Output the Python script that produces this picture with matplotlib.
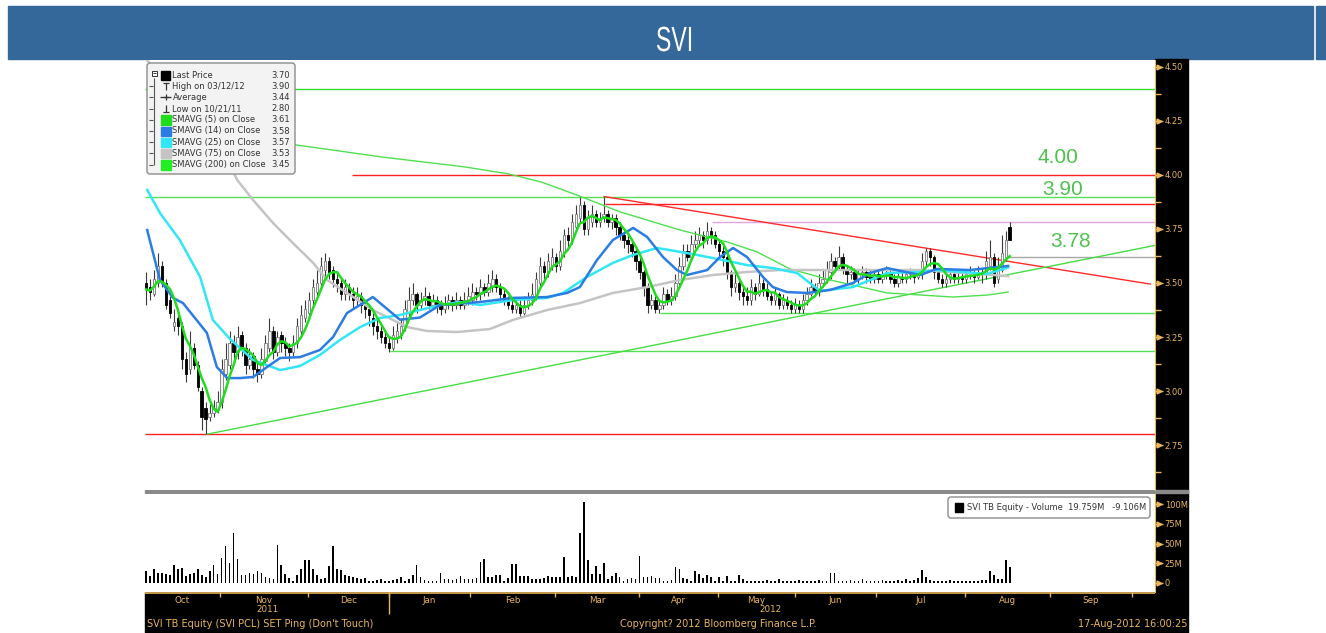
import numpy as np
import pandas as pd
import matplotlib
matplotlib.use("Agg")
import matplotlib.pyplot as plt
from matplotlib.patches import Rectangle, FancyBboxPatch, PathPatch
from matplotlib.ticker import FormatStrFormatter, FixedLocator
from matplotlib.transforms import blended_transform_factory, Affine2D
from matplotlib.textpath import TextPath
from matplotlib.font_manager import FontProperties

# ---- daily bars (index = trading day, starting early Oct 2011) ----
opens = [
    3.50, 3.48, 3.45, 3.50, 3.58, 3.50, 3.42, 3.30, 3.34, 3.30,
    3.15, 3.10, 3.20, 3.12, 3.00, 2.92, 2.88, 2.90, 2.91, 2.95,
    3.08, 3.12, 3.22, 3.18, 3.26, 3.20, 3.12, 3.16, 3.10, 3.08,
    3.14, 3.20, 3.28, 3.18, 3.26, 3.22, 3.20, 3.18, 3.22, 3.28,
    3.34, 3.36, 3.42, 3.46, 3.50, 3.56, 3.60, 3.56, 3.52, 3.50,
    3.45, 3.48, 3.45, 3.42, 3.44, 3.40, 3.38, 3.34, 3.30, 3.28,
    3.25, 3.22, 3.20, 3.25, 3.26, 3.30, 3.36, 3.42, 3.45, 3.40,
    3.42, 3.44, 3.40, 3.42, 3.40, 3.38, 3.40, 3.42, 3.40, 3.42,
    3.40, 3.42, 3.42, 3.46, 3.45, 3.48, 3.46, 3.48, 3.52, 3.48,
    3.45, 3.42, 3.40, 3.38, 3.40, 3.36, 3.40, 3.42, 3.44, 3.50,
    3.58, 3.55, 3.58, 3.62, 3.58, 3.64, 3.72, 3.70, 3.76, 3.80,
    3.86, 3.75, 3.78, 3.82, 3.78, 3.80, 3.82, 3.78, 3.80, 3.76,
    3.72, 3.70, 3.68, 3.65, 3.60, 3.55, 3.48, 3.40, 3.42, 3.38,
    3.40, 3.45, 3.42, 3.44, 3.50, 3.58, 3.65, 3.62, 3.68, 3.70,
    3.72, 3.70, 3.74, 3.72, 3.68, 3.65, 3.62, 3.55, 3.48, 3.50,
    3.46, 3.44, 3.42, 3.48, 3.45, 3.50, 3.47, 3.44, 3.42, 3.45,
    3.40, 3.42, 3.40, 3.38, 3.40, 3.38, 3.42, 3.45, 3.48, 3.46,
    3.50, 3.52, 3.55, 3.60, 3.58, 3.62, 3.56, 3.54, 3.55, 3.52,
    3.54, 3.55, 3.53, 3.52, 3.54, 3.52, 3.54, 3.55, 3.52, 3.50,
    3.53, 3.52, 3.54, 3.55, 3.53, 3.54, 3.60, 3.65, 3.62, 3.55,
    3.52, 3.50, 3.52, 3.54, 3.52, 3.53, 3.52, 3.54, 3.55, 3.53,
    3.55, 3.54, 3.58, 3.62, 3.52, 3.56, 3.62, 3.76,
]
highs = [
    3.55, 3.52, 3.56, 3.64, 3.60, 3.52, 3.44, 3.38, 3.36, 3.32,
    3.18, 3.28, 3.22, 3.14, 3.02, 2.95, 2.94, 2.96, 3.00, 3.15,
    3.22, 3.28, 3.26, 3.30, 3.28, 3.22, 3.20, 3.18, 3.14, 3.20,
    3.26, 3.34, 3.30, 3.28, 3.28, 3.25, 3.22, 3.26, 3.34, 3.40,
    3.42, 3.46, 3.52, 3.56, 3.62, 3.64, 3.62, 3.58, 3.55, 3.52,
    3.52, 3.50, 3.48, 3.48, 3.46, 3.42, 3.40, 3.36, 3.34, 3.30,
    3.28, 3.25, 3.30, 3.32, 3.34, 3.42, 3.48, 3.50, 3.46, 3.46,
    3.48, 3.46, 3.45, 3.44, 3.42, 3.44, 3.45, 3.44, 3.46, 3.44,
    3.46, 3.48, 3.50, 3.48, 3.52, 3.50, 3.54, 3.56, 3.54, 3.50,
    3.47, 3.44, 3.42, 3.42, 3.42, 3.44, 3.46, 3.50, 3.55, 3.62,
    3.60, 3.64, 3.66, 3.64, 3.70, 3.75, 3.76, 3.82, 3.86, 3.90,
    3.88, 3.84, 3.86, 3.84, 3.83, 3.90, 3.84, 3.82, 3.82, 3.78,
    3.74, 3.72, 3.70, 3.66, 3.62, 3.56, 3.50, 3.45, 3.44, 3.42,
    3.48, 3.47, 3.48, 3.54, 3.62, 3.68, 3.68, 3.72, 3.74, 3.76,
    3.74, 3.78, 3.76, 3.74, 3.70, 3.67, 3.64, 3.56, 3.54, 3.52,
    3.48, 3.48, 3.52, 3.50, 3.54, 3.52, 3.50, 3.46, 3.48, 3.46,
    3.45, 3.44, 3.42, 3.43, 3.42, 3.45, 3.48, 3.52, 3.50, 3.54,
    3.56, 3.60, 3.64, 3.62, 3.67, 3.64, 3.58, 3.58, 3.57, 3.56,
    3.58, 3.57, 3.56, 3.56, 3.56, 3.56, 3.58, 3.56, 3.54, 3.56,
    3.55, 3.56, 3.57, 3.56, 3.56, 3.64, 3.66, 3.66, 3.63, 3.57,
    3.54, 3.55, 3.56, 3.56, 3.55, 3.56, 3.56, 3.58, 3.56, 3.58,
    3.57, 3.65, 3.70, 3.64, 3.62, 3.72, 3.74, 3.78,
]
lows = [
    3.40, 3.42, 3.44, 3.48, 3.48, 3.38, 3.34, 3.28, 3.26, 3.10,
    3.04, 3.08, 3.10, 3.00, 2.82, 2.80, 2.86, 2.88, 2.90, 2.92,
    3.05, 3.10, 3.14, 3.15, 3.16, 3.08, 3.10, 3.06, 3.04, 3.06,
    3.12, 3.18, 3.15, 3.16, 3.18, 3.16, 3.14, 3.16, 3.20, 3.26,
    3.32, 3.34, 3.40, 3.44, 3.48, 3.52, 3.52, 3.48, 3.46, 3.42,
    3.42, 3.42, 3.38, 3.40, 3.36, 3.34, 3.30, 3.26, 3.24, 3.22,
    3.20, 3.18, 3.19, 3.22, 3.24, 3.28, 3.34, 3.40, 3.36, 3.38,
    3.40, 3.38, 3.38, 3.36, 3.35, 3.36, 3.38, 3.37, 3.38, 3.38,
    3.38, 3.40, 3.40, 3.42, 3.42, 3.44, 3.44, 3.46, 3.46, 3.42,
    3.40, 3.38, 3.36, 3.36, 3.34, 3.35, 3.38, 3.40, 3.42, 3.48,
    3.52, 3.53, 3.56, 3.55, 3.56, 3.62, 3.66, 3.68, 3.74, 3.78,
    3.72, 3.72, 3.76, 3.76, 3.76, 3.78, 3.76, 3.75, 3.72, 3.70,
    3.66, 3.64, 3.62, 3.56, 3.52, 3.44, 3.36, 3.38, 3.36, 3.36,
    3.38, 3.40, 3.40, 3.42, 3.48, 3.56, 3.60, 3.60, 3.66, 3.68,
    3.66, 3.68, 3.68, 3.66, 3.62, 3.58, 3.52, 3.44, 3.46, 3.42,
    3.40, 3.40, 3.40, 3.42, 3.44, 3.44, 3.42, 3.40, 3.40, 3.38,
    3.38, 3.38, 3.36, 3.36, 3.36, 3.36, 3.40, 3.44, 3.44, 3.44,
    3.48, 3.50, 3.52, 3.55, 3.56, 3.54, 3.50, 3.52, 3.50, 3.50,
    3.52, 3.50, 3.50, 3.50, 3.50, 3.50, 3.52, 3.50, 3.48, 3.48,
    3.50, 3.50, 3.52, 3.50, 3.52, 3.52, 3.58, 3.58, 3.52, 3.50,
    3.48, 3.48, 3.50, 3.50, 3.50, 3.50, 3.50, 3.52, 3.50, 3.52,
    3.50, 3.52, 3.56, 3.48, 3.50, 3.55, 3.60, 3.70,
]
closes = [
    3.47, 3.46, 3.52, 3.58, 3.50, 3.40, 3.36, 3.32, 3.30, 3.15,
    3.08, 3.20, 3.12, 3.02, 2.88, 2.87, 2.90, 2.92, 2.95, 3.10,
    3.15, 3.22, 3.18, 3.25, 3.20, 3.12, 3.15, 3.10, 3.08, 3.15,
    3.22, 3.28, 3.18, 3.25, 3.22, 3.20, 3.18, 3.22, 3.30, 3.35,
    3.38, 3.42, 3.48, 3.50, 3.58, 3.60, 3.55, 3.52, 3.50, 3.45,
    3.48, 3.45, 3.42, 3.44, 3.40, 3.38, 3.35, 3.30, 3.28, 3.25,
    3.22, 3.20, 3.26, 3.28, 3.30, 3.38, 3.42, 3.45, 3.40, 3.42,
    3.44, 3.40, 3.42, 3.40, 3.38, 3.40, 3.42, 3.40, 3.42, 3.40,
    3.42, 3.44, 3.46, 3.45, 3.48, 3.46, 3.50, 3.52, 3.48, 3.45,
    3.42, 3.40, 3.38, 3.40, 3.36, 3.40, 3.42, 3.45, 3.52, 3.58,
    3.55, 3.60, 3.62, 3.58, 3.65, 3.72, 3.70, 3.78, 3.82, 3.86,
    3.75, 3.80, 3.82, 3.78, 3.80, 3.82, 3.78, 3.80, 3.76, 3.72,
    3.70, 3.68, 3.65, 3.60, 3.55, 3.48, 3.40, 3.42, 3.38, 3.40,
    3.45, 3.42, 3.44, 3.50, 3.58, 3.65, 3.62, 3.68, 3.70, 3.72,
    3.70, 3.74, 3.72, 3.68, 3.65, 3.62, 3.55, 3.48, 3.50, 3.46,
    3.44, 3.42, 3.48, 3.45, 3.50, 3.47, 3.44, 3.42, 3.45, 3.40,
    3.42, 3.40, 3.38, 3.40, 3.38, 3.42, 3.45, 3.48, 3.46, 3.50,
    3.52, 3.56, 3.60, 3.58, 3.62, 3.56, 3.54, 3.55, 3.52, 3.54,
    3.55, 3.53, 3.52, 3.54, 3.52, 3.54, 3.55, 3.52, 3.50, 3.53,
    3.52, 3.54, 3.55, 3.53, 3.54, 3.60, 3.65, 3.62, 3.55, 3.52,
    3.50, 3.52, 3.54, 3.52, 3.53, 3.52, 3.54, 3.55, 3.53, 3.55,
    3.54, 3.60, 3.62, 3.50, 3.58, 3.64, 3.70, 3.70,
]
volumes = [  # millions of shares
    14.8, 8.4, 18.1, 12.7, 12.7, 11.8, 9.7, 22.4, 17.3, 19.4,
    8.9, 11.8, 12.7, 17.3, 10.5, 7.2, 15.2, 22.4, 12.0, 31.6,
    46.4, 25.7, 63.7, 30.8, 10.5, 9.7, 12.7, 11.8, 14.8, 12.7,
    7.2, 6.3, 5.0, 47.7, 22.4, 11.0, 6.3, 2.1, 10.5, 18.1,
    28.7, 29.5, 18.1, 10.5, 4.6, 6.3, 21.5, 46.4, 18.1, 16.9,
    9.7, 8.4, 7.2, 6.3, 5.5, 6.3, 3.0, 3.0, 4.2, 5.5,
    2.1, 3.0, 4.2, 5.5, 7.2, 3.0, 4.6, 10.5, 22.4, 7.2,
    4.2, 3.0, 3.0, 3.0, 12.7, 5.5, 4.6, 3.4, 5.5, 8.4,
    5.5, 5.5, 5.5, 6.3, 26.6, 30.0, 7.6, 7.2, 9.7, 10.5,
    3.0, 6.3, 24.5, 24.5, 8.9, 8.9, 8.9, 4.6, 4.6, 4.6,
    6.3, 8.9, 7.6, 7.2, 7.2, 32.5, 7.2, 8.9, 7.2, 63.7,
    103.0, 29.5, 11.8, 21.5, 11.8, 25.7, 5.5, 8.9, 12.7, 7.2,
    3.0, 4.6, 6.3, 4.6, 34.2, 7.2, 7.2, 8.4, 6.3, 6.0,
    3.0, 3.0, 4.0, 20.0, 18.0, 6.0, 5.0, 3.0, 15.6, 12.0,
    6.0, 10.5, 7.0, 3.0, 7.0, 3.0, 8.4, 3.0, 3.0, 9.7,
    5.5, 3.0, 3.0, 2.0, 3.0, 2.0, 4.0, 3.0, 2.0, 5.0,
    3.0, 2.0, 3.0, 2.0, 4.0, 2.0, 3.0, 3.0, 2.0, 4.0,
    3.0, 2.0, 12.7, 12.7, 3.0, 2.0, 3.0, 4.0, 2.0, 3.0,
    5.0, 3.0, 2.0, 3.0, 2.0, 4.0, 3.0, 2.0, 3.0, 4.0,
    3.0, 5.0, 3.0, 4.0, 6.0, 17.0, 7.0, 4.0, 3.0, 3.0,
    2.0, 3.0, 4.0, 2.0, 3.0, 3.0, 2.0, 3.0, 2.0, 3.0,
    4.0, 4.0, 15.6, 10.0, 5.0, 5.0, 29.5, 19.76,
]

# moving averages (bar index, price)
sma14_x = [0.3, 3.5, 6.8, 9.3, 15.3, 17.8, 20.4, 23.6, 26.9, 30.4, 33.7, 38.7,
           43.7, 47.0, 50.5, 57.0, 63.8, 68.8, 73.9, 83.9, 92.2, 100.8, 105.8,
           109.0, 113.3, 117.3, 122.4, 125.9, 129.9, 133.4, 135.9, 141.0, 144.2,
           147.5, 151.0, 155.0, 157.5, 161.0, 166.1, 171.9, 177.6, 181.9, 186.2,
           194.5, 198.7, 207.0, 216.6]
sma14_y = [3.745, 3.514, 3.431, 3.407, 3.269, 3.111, 3.060, 3.060, 3.065, 3.111,
           3.153, 3.157, 3.190, 3.250, 3.361, 3.435, 3.330, 3.340, 3.398, 3.412,
           3.431, 3.435, 3.454, 3.481, 3.606, 3.699, 3.755, 3.713, 3.620, 3.560,
           3.537, 3.560, 3.620, 3.662, 3.620, 3.528, 3.481, 3.458, 3.454, 3.468,
           3.500, 3.546, 3.569, 3.537, 3.565, 3.560, 3.579]
sma25_x = [0.3, 3.5, 8.5, 13.6, 16.8, 21.1, 26.9, 33.7, 38.7, 43.7, 48.7, 53.8,
           58.8, 63.8, 68.8, 73.9, 78.9, 83.9, 92.2, 100.8, 104.8, 110.8, 117.3,
           122.4, 128.4, 134.2, 138.4, 145.0, 151.0, 157.5, 163.6, 169.3, 177.6,
           186.2, 194.5, 198.7, 211.3, 216.6]
sma25_y = [3.931, 3.824, 3.699, 3.528, 3.329, 3.241, 3.144, 3.097, 3.116, 3.167,
           3.236, 3.296, 3.338, 3.352, 3.375, 3.398, 3.412, 3.398, 3.421, 3.431,
           3.454, 3.528, 3.593, 3.630, 3.662, 3.644, 3.630, 3.606, 3.583, 3.569,
           3.546, 3.463, 3.481, 3.546, 3.551, 3.560, 3.542, 3.572]
sma75_x = [0.3, 18.1, 22.9, 26.9, 31.9, 36.9, 42.0, 45.5, 50.5, 57.0, 65.6, 70.6,
           78.1, 86.4, 92.2, 100.8, 109.0, 117.3, 125.9, 134.2, 142.5, 151.0,
           159.3, 171.9, 194.5, 216.6]
sma75_y = [4.530, 4.162, 3.977, 3.884, 3.778, 3.685, 3.593, 3.514, 3.454, 3.375,
           3.296, 3.278, 3.273, 3.287, 3.329, 3.375, 3.407, 3.454, 3.481, 3.514,
           3.537, 3.551, 3.560, 3.560, 3.560, 3.532]
sma200_x = [0.3, 21.1, 41.2, 59.3, 80.2, 91.0, 99.2, 108.3, 119.1, 134.2, 146.0,
            153.5, 161.8, 171.9, 186.2, 202.8, 211.3, 216.6]
sma200_y = [4.227, 4.181, 4.130, 4.083, 4.037, 4.005, 3.968, 3.907, 3.829, 3.745,
            3.690, 3.644, 3.565, 3.514, 3.454, 3.435, 3.444, 3.458]

# drawn support / resistance levels: price, first bar, colour
level_prices = [4.40, 4.00, 3.90, 3.866, 3.78, 3.62, 3.36, 3.185, 2.80]
level_starts = [-0.3, 51.8, -0.3, 115.3, 142.2, 216.3, 129.1, 61.3, -0.3]
level_colors = ['#33dd33', '#ff2020', '#55e055', '#ff2020', '#e0a8e0',
                '#a8a8a8', '#55e055', '#55e055', '#ff2020']
red_trend_x, red_trend_y = [115.1, 252.3], [3.90, 3.495]
green_trend_x, green_trend_y = [15.25, 253.5], [2.80, 3.674]

level_labels = ['4.00', '3.90', '3.78']
level_label_x = [229.1, 230.2, 232.2]
level_label_y = [4.083, 3.931, 3.694]

month_edges = [18.6, 40.7, 61.0, 81.4, 102.8, 123.9, 143.7, 163.0, 183.4, 205.8, 227.0, 247.7]
month_names = ['Oct', 'Nov', 'Dec', 'Jan', 'Feb', 'Mar', 'Apr', 'May', 'Jun', 'Jul', 'Aug', 'Sep']
year_labels = ['2011', '2012']
year_label_x = [30.5, 157.0]

legend_names = ['Last Price', 'High on 03/12/12', 'Average', 'Low on 10/21/11',
                'SMAVG (5) on Close', 'SMAVG (14) on Close', 'SMAVG (25) on Close',
                'SMAVG (75) on Close', 'SMAVG (200) on Close']
legend_values = ['3.70', '3.90', '3.44', '2.80', '3.61', '3.58', '3.57', '3.53', '3.45']

TAN = '#e8b65c'
C5, C14, C25, C75, C200 = '#1fdc1f', '#2b7de3', '#33e6f7', '#c4c4c4', '#4fe04f'

W, H = 1326, 633
XMIN, XMAX = -0.25, 253.5


def fbox(x0, y0, x1, y1):
    # pixel box (top-left origin) -> figure fraction rect
    return [x0 / W, 1 - y1 / H, (x1 - x0) / W, (y1 - y0) / H]


fig = plt.figure(figsize=(W / 100, H / 100), dpi=100)
fig.patch.set_facecolor('white')

# background layer: header band and black axis strips
bg = fig.add_axes([0, 0, 1, 1], zorder=-5)
bg.set_xlim(0, W)
bg.set_ylim(H, 0)
bg.axis('off')
bg.add_patch(Rectangle((8, 6), 1305, 53, color='#34679a'))
bg.add_patch(Rectangle((1316, 6), 10, 53, color='#34679a'))
bg.add_patch(Rectangle((1155, 59), 33, 533, color='black'))
bg.add_patch(Rectangle((145, 592), 1043, 41, color='black'))
bg.add_patch(Rectangle((145, 490), 1043, 3, color='#8a8a8a'))

# narrow title: glyph outlines squeezed horizontally
tp = TextPath((0, 0), 'SVI', size=35, prop=FontProperties(family='Liberation Sans'))
ext = tp.get_extents()
title_tf = (Affine2D().translate(-(ext.x0 + ext.width / 2), -(ext.y0 + ext.height / 2))
            .scale(0.66, -1).translate(674, 39))
bg.add_patch(PathPatch(title_tf.transform_path(tp), fc='white', ec='none'))

# ---- price panel ----
ax = fig.add_axes(fbox(145, 60, 1155, 490))
ax.set_xlim(XMIN, XMAX)
ax.set_ylim(2.542, 4.532)
for s in ['top', 'left', 'bottom']:
    ax.spines[s].set_visible(False)
ax.spines['right'].set_color(TAN)
ax.tick_params(axis='x', bottom=False, labelbottom=False)
ax.yaxis.tick_right()
ax.yaxis.set_major_locator(FixedLocator([2.75, 3.0, 3.25, 3.5, 3.75, 4.0, 4.25, 4.5]))
ax.yaxis.set_minor_locator(FixedLocator([2.625, 2.875, 3.125, 3.375, 3.625, 3.875, 4.125, 4.375]))
ax.yaxis.set_major_formatter(FormatStrFormatter('%.2f'))
ax.tick_params(axis='y', which='major', colors=TAN, length=6, width=1, labelsize=6, pad=1)
ax.tick_params(axis='y', which='minor', colors=TAN, length=4, width=1)
tr = blended_transform_factory(ax.transAxes, ax.transData)
ax.plot([1.004] * 8, [2.75, 3.0, 3.25, 3.5, 3.75, 4.0, 4.25, 4.5], ls='none', marker='>',
        ms=3.5, color=TAN, transform=tr, clip_on=False)

for lv, st, col in zip(level_prices, level_starts, level_colors):
    ax.hlines(lv, st, XMAX, color=col, lw=1, zorder=2)
ax.plot(red_trend_x, red_trend_y, color='#ff2a2a', lw=1, zorder=2)
ax.plot(green_trend_x, green_trend_y, color='#44dd44', lw=1, zorder=2)

x = np.arange(len(closes))
o, h, l, c = (np.array(v) for v in (opens, highs, lows, closes))
up = c >= o
ax.vlines(x, l, h, color='#3a3a3a', lw=0.8, zorder=3)
body = np.maximum(np.abs(c - o), 0.006)
bot = np.minimum(o, c)
ax.bar(x[up], body[up], bottom=bot[up], width=0.62, color='#f4f4f4',
       edgecolor='#7a7a7a', lw=0.6, zorder=4)
ax.bar(x[~up], body[~up], bottom=bot[~up], width=0.62, color='black',
       edgecolor='black', lw=0.6, zorder=4)

sma5 = pd.Series(closes).rolling(5, min_periods=1).mean()
ax.plot(sma200_x, sma200_y, color=C200, lw=1.0, zorder=5)
ax.plot(sma75_x, sma75_y, color=C75, lw=1.8, zorder=5)
ax.plot(sma25_x, sma25_y, color=C25, lw=1.8, zorder=6)
ax.plot(sma14_x, sma14_y, color=C14, lw=1.8, zorder=7)
ax.plot(x, sma5, color=C5, lw=1.8, zorder=8)

for t, tx, ty in zip(level_labels, level_label_x, level_label_y):
    ax.text(tx, ty, t, color='#4dc24d', fontsize=15, ha='center', va='center',
            family='Liberation Sans', zorder=9)

# ---- volume panel ----
av = fig.add_axes(fbox(145, 494, 1155, 592))
av.set_xlim(XMIN, XMAX)
av.set_ylim(-11.4, 112.7)
for s in ['top', 'left', 'bottom']:
    av.spines[s].set_visible(False)
av.spines['right'].set_color(TAN)
av.bar(x, volumes, width=0.42, color='black', zorder=3)
av.tick_params(axis='x', bottom=False, labelbottom=False)
av.yaxis.tick_right()
av.set_yticks([0, 25, 50, 75, 100])
av.set_yticklabels(['0', '25M', '50M', '75M', '100M'])
av.tick_params(axis='y', colors=TAN, length=6, width=1, labelsize=6, pad=1)
trv = blended_transform_factory(av.transAxes, av.transData)
av.plot([1.004] * 5, [0, 25, 50, 75, 100], ls='none', marker='>', ms=3.5,
        color=TAN, transform=trv, clip_on=False)

# ---- date strip ----
ad = fig.add_axes(fbox(145, 592, 1155, 633))
ad.set_xlim(XMIN, XMAX)
ad.set_ylim(41, 0)
ad.axis('off')
ad.hlines(0.5, XMIN, XMAX, color=TAN, lw=1.2)
ad.vlines(month_edges, 0, 5, color=TAN, lw=1)
ad.vlines(month_edges[2], 0, 22, color=TAN, lw=1)
label_edges = [XMIN] + month_edges
for i, name in enumerate(month_names):
    ad.text((label_edges[i] + label_edges[i + 1]) / 2, 8.5, name, color=TAN,
            fontsize=6.3, ha='center', va='center')
for t, tx in zip(year_labels, year_label_x):
    ad.text(tx, 17.5, t, color=TAN, fontsize=6.3, ha='center', va='center')

# ---- overlay: legends and footer ----
ov = fig.add_axes([0, 0, 1, 1], zorder=10)
ov.set_xlim(0, W)
ov.set_ylim(H, 0)
ov.axis('off')
ov.patch.set_alpha(0)

ov.add_patch(FancyBboxPatch((147, 63), 148, 111, boxstyle='round,pad=0,rounding_size=3',
                            fc='#f3f3f3', ec='#8c8c8c', lw=1))
row_y = [75 + 11.2 * i for i in range(len(legend_names))]
sw_colors = [None, None, None, None, C5, C14, C25, C75, '#22ee22']
ov.vlines(154, 78, row_y[-1], color='#555555', lw=0.8)
ov.add_patch(Rectangle((151.5, 70.5), 5, 5, fc='white', ec='#333333', lw=0.7))
ov.hlines(73, 152.5, 155.5, color='#333333', lw=0.7)
for i, (name, val) in enumerate(zip(legend_names, legend_values)):
    yy = row_y[i]
    if i > 0:
        ov.hlines(yy, 149, 153, color='#555555', lw=0.8)
    if i == 0:
        ov.add_patch(Rectangle((161, yy - 4.5), 9, 9, color='black'))
    elif i == 1:
        ov.vlines(165.5, yy - 3.5, yy + 4, color='#333333', lw=0.9)
        ov.hlines(yy - 3.5, 162.5, 168.5, color='#333333', lw=0.9)
    elif i == 2:
        ov.hlines(yy, 160, 171, color='#333333', lw=0.9)
        ov.plot([165.5], [yy], marker='+', ms=4, mew=0.9, color='#333333')
    elif i == 3:
        ov.vlines(165.5, yy - 4, yy + 3.5, color='#333333', lw=0.9)
        ov.hlines(yy + 3.5, 162.5, 168.5, color='#333333', lw=0.9)
    else:
        ov.add_patch(Rectangle((161, yy - 4.5), 9.5, 9.5, color=sw_colors[i]))
    ov.text(172.5, yy, name, fontsize=6.0, color='#333333', ha='left', va='center')
    ov.text(290, yy, val, fontsize=6.0, color='#333333', ha='right', va='center')

ov.add_patch(FancyBboxPatch((948, 497), 202, 21, boxstyle='round,pad=0,rounding_size=3',
                            fc='white', ec='#8c8c8c', lw=1))
ov.add_patch(Rectangle((955, 503), 8, 8.5, color='black'))
ov.text(967, 507.5, 'SVI TB Equity - Volume  19.759M   -9.106M', fontsize=6.0,
        color='#333333', ha='left', va='center')

ov.text(147, 624, "SVI TB Equity (SVI PCL) SET Ping (Don't Touch)", fontsize=7,
        color=TAN, ha='left', va='center')
ov.text(718, 624, 'Copyright? 2012 Bloomberg Finance L.P.', fontsize=7,
        color=TAN, ha='center', va='center')
ov.text(1187, 624, '17-Aug-2012 16:00:25', fontsize=7, color=TAN,
        ha='right', va='center')

fig.savefig('out.png', dpi=100)
